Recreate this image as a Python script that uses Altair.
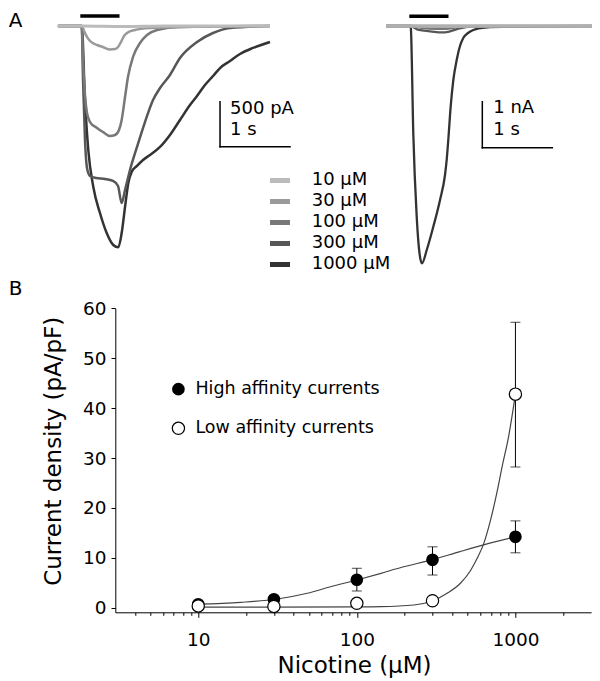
import altair as alt
import pandas as pd

FONT = "DejaVu Sans"

# ---------------- Panel A: current traces (time in s after nicotine onset) ----------------
CONC_LABELS = ["10 µM", "30 µM", "100 µM", "300 µM", "1000 µM"]
CONC_GRAYS = ["#bbbbbb", "#9a9a9a", "#787878", "#575757", "#333333"]

# left cell, current in pA
L10_T = [-0.34, 0.0, 0.6, 1.2, 2.69]
L10_I = [0, 0, -5, 0, 0]
L30_T = [-0.34, 0.0, 0.047, 0.076, 0.119, 0.219, 0.304, 0.404, 0.476, 0.519,
         0.561, 0.604, 0.647, 0.761, 0.976, 1.404, 2.69]
L30_I = [0, 0, -78, -122, -167, -211, -233, -261, -256, -233,
         -178, -111, -78, -44, -22, -11, 0]
L100_T = [-0.34, 0.0, 0.019, 0.047, 0.076, 0.119, 0.219, 0.304, 0.404, 0.476,
          0.533, 0.571, 0.619, 0.661, 0.733, 0.833, 0.933, 1.076, 1.404, 2.69]
L100_I = [0, 0, -378, -767, -967, -1067, -1133, -1178, -1222, -1211,
          -1155, -1044, -789, -567, -344, -189, -100, -44, -11, 0]
L300_T = [-0.34, 0.0, 0.019, 0.047, 0.076, 0.119, 0.204, 0.333, 0.447, 0.519,
          0.571, 0.619, 0.69, 0.79, 0.904, 1.019, 1.119, 1.261, 1.404, 1.647,
          1.876, 2.119, 2.69]
L300_I = [0, 0, -600, -1267, -1578, -1667, -1689, -1700, -1722, -1778,
          -1967, -1822, -1600, -1344, -1067, -822, -689, -544, -356, -178,
          -78, -22, 0]
L1000_T = [-0.34, 0.0, 0.047, 0.094, 0.166, 0.261, 0.357, 0.451, 0.523, 0.571,
           0.619, 0.666, 0.714, 0.79, 0.876, 0.976, 1.119, 1.261, 1.404, 1.547,
           1.647, 1.761, 1.876, 1.976, 2.119, 2.261, 2.447, 2.69]
L1000_I = [0, 0, -822, -1378, -1789, -2078, -2300, -2433, -2459, -2300,
           -2011, -1744, -1622, -1555, -1489, -1433, -1344, -1211, -1044, -878,
           -778, -656, -556, -467, -389, -311, -244, -178]

# right cell, current in nA
R10_T = [-0.353, 0.5, 1.5, 2.657]
R10_I = [0, 0, 0, 0]
R30_T = [-0.353, 0.0, 0.3, 0.6, 1.0, 2.657]
R30_I = [0, 0, -0.02, -0.02, 0, 0]
R100_T = [-0.353, 0.0, 0.15, 0.35, 0.5, 0.65, 0.9, 2.657]
R100_I = [0, 0, -0.04, -0.06, -0.06, -0.03, -0.01, 0]
R300_T = [-0.353, 0.0, 0.1, 0.3, 0.45, 0.55, 0.7, 0.9, 2.657]
R300_I = [0, 0, -0.08, -0.12, -0.14, -0.12, -0.05, -0.01, 0]
R1000_T = [-0.353, 0.0, 0.004, 0.037, 0.086, 0.133, 0.161, 0.229, 0.323, 0.419,
           0.49, 0.514, 0.537, 0.571, 0.609, 0.657, 0.704, 0.751, 0.819, 0.894,
           1.061, 1.561, 2.657]
R1000_I = [0, 0, -0.087, -2.33, -4.15, -5.02, -5.16, -4.87, -4.363, -3.783,
           -3.239, -2.913, -2.478, -1.754, -1.174, -0.739, -0.435, -0.261, -0.152, -0.087,
           -0.033, -0.011, 0]

# nicotine application bar (s) and scale bars
APP_T = [-0.02, 0.54]
L_BAR_T = 1.976
L_BAR_I = -841       # top of 500 pA bar
R_BAR_T = 1.023
R_BAR_I = -1.646     # top of 1 nA bar

# ---------------- Panel B: dose-response ----------------
NIC = [10, 30, 100, 300, 1000]
HIGH_MEAN = [0.7, 1.7, 5.6, 9.6, 14.2]
HIGH_LO = [0.55, 1.5, 3.35, 6.55, 11.0]
HIGH_HI = [0.85, 1.9, 7.9, 12.2, 17.4]
LOW_MEAN = [0.35, 0.25, 0.88, 1.4, 42.8]
LOW_LO = [0.25, 0.15, 0.7, 1.2, 28.2]
LOW_HI = [0.45, 0.35, 1.05, 1.6, 57.2]

HIGH_FIT_X = [10, 18.5, 31.5, 48.7, 68.3, 100, 142, 192, 298, 442, 631, 1000]
HIGH_FIT_Y = [0.7, 1.08, 1.74, 2.89, 4.2, 5.55, 6.89, 8.1, 9.6, 11.2, 12.6, 14.2]
LOW_FIT_X = [10, 30, 100, 141, 229, 298, 371, 450, 520, 574, 632, 696, 767, 825, 908, 1000]
LOW_FIT_Y = [0.1, 0.1, 0.15, 0.2, 0.54, 1.34, 2.9, 4.9, 7.4, 9.9, 12.9, 17.5, 23.3, 28.3, 34.5, 42.8]

LEGEND_B = ["High affinity currents", "Low affinity currents"]

# ---------------- layout ----------------
W, H = 475.8, 604.3
PAD = {"left": 107.3, "top": 0, "right": 0.9, "bottom": 68}

sc_lx = alt.Scale(domain=[-0.5, 3.0], range=[-68.6, 176.4], nice=False, zero=False)
sc_ly = alt.Scale(domain=[-2600, 200], range=[252, 0], nice=False, zero=False)
sc_rx = alt.Scale(domain=[-0.5, 2.8], range=[260.4, 491.4], nice=False, zero=False)
sc_ry = alt.Scale(domain=[-5.4, 0.4], range=[266.4, -0.4], nice=False, zero=False)
sc_bx = alt.Scale(type="log", domain=[3, 3000], range=[0, W], nice=False)
sc_by = alt.Scale(domain=[-0.92, 60], range=[H, 300.3], nice=False, zero=False)
sc_leg = alt.Scale(domain=[0, 4], range=[172.5, 256.5], nice=False, zero=False)


def trace(T, I, color, width, sx, sy):
    df = pd.DataFrame({"t": T, "i": I})
    return alt.Chart(df).mark_line(color=color, strokeWidth=width, interpolate="monotone").encode(
        x=alt.X("t:Q", scale=sx, axis=None), y=alt.Y("i:Q", scale=sy, axis=None))


def trace_panel(traces, sx, sy, app_i, bar_t, bar_i, bar_h, bar_labels):
    layers = [trace(T, I, c, w, sx, sy) for (T, I, c, w) in traces]
    app = alt.Chart(pd.DataFrame({"t0": [APP_T[0]], "t1": [APP_T[1]], "i": [app_i]})).mark_rule(
        color="black", strokeWidth=3.5).encode(
        x=alt.X("t0:Q", scale=sx, axis=None), x2="t1:Q", y=alt.Y("i:Q", scale=sy, axis=None))
    vbar = alt.Chart(pd.DataFrame({"t": [bar_t], "i0": [bar_i], "i1": [bar_i - bar_h]})).mark_rule(
        color="black", strokeWidth=1.5, strokeCap="square").encode(
        x=alt.X("t:Q", scale=sx, axis=None), y=alt.Y("i0:Q", scale=sy, axis=None), y2="i1:Q")
    hbar = alt.Chart(pd.DataFrame({"t0": [bar_t], "t1": [bar_t + 1.0], "i": [bar_i - bar_h]})).mark_rule(
        color="black", strokeWidth=1.5, strokeCap="square").encode(
        x=alt.X("t0:Q", scale=sx, axis=None), x2="t1:Q", y=alt.Y("i:Q", scale=sy, axis=None))
    txt = alt.Chart(pd.DataFrame(bar_labels)).mark_text(
        align="left", baseline="middle", font=FONT, fontSize=18, color="black").encode(
        x=alt.X("t:Q", scale=sx, axis=None), y=alt.Y("i:Q", scale=sy, axis=None), text="label:N")
    return alt.layer(*layers, app, vbar, hbar, txt)


left = trace_panel(
    [(L1000_T, L1000_I, CONC_GRAYS[4], 2.5), (L300_T, L300_I, CONC_GRAYS[3], 2.5),
     (L100_T, L100_I, CONC_GRAYS[2], 2.5), (L30_T, L30_I, CONC_GRAYS[1], 2.5),
     (L10_T, L10_I, CONC_GRAYS[0], 3.0)],
    sc_lx, sc_ly, 111, L_BAR_T, L_BAR_I, 500,
    {"t": [2.12, 2.12], "i": [-917, -1155], "label": ["500 pA", "1 s"]})

right = trace_panel(
    [(R1000_T, R1000_I, CONC_GRAYS[4], 2.3), (R300_T, R300_I, CONC_GRAYS[3], 2.3),
     (R100_T, R100_I, CONC_GRAYS[2], 2.3), (R30_T, R30_I, CONC_GRAYS[1], 2.3),
     (R10_T, R10_I, "#b0b0b0", 3.5)],
    sc_rx, sc_ry, 0.211, R_BAR_T, R_BAR_I, 1.0,
    {"t": [1.18, 1.18], "i": [-1.772, -2.26], "label": ["1 nA", "1 s"]})

leg_df = pd.DataFrame({"idx": list(range(5)), "label": CONC_LABELS})
leg_sw = alt.Chart(leg_df).mark_rule(strokeWidth=5, strokeCap="butt").encode(
    x=alt.value(154.7), x2=alt.value(174.7),
    y=alt.Y("idx:Q", scale=sc_leg, axis=None),
    color=alt.Color("label:N", scale=alt.Scale(domain=CONC_LABELS, range=CONC_GRAYS), legend=None))
leg_tx = alt.Chart(leg_df).mark_text(align="left", baseline="middle", font=FONT, fontSize=18,
                                     color="black").encode(
    x=alt.value(196.4), y=alt.Y("idx:Q", scale=sc_leg, axis=None), text="label:N")
legendA = alt.layer(leg_sw, leg_tx)

# ---- panel B ----
ax_x = alt.Axis(values=[10, 100, 1000], format="d", tickSize=5, tickWidth=1, domainWidth=1,
                labelFontSize=18.5, labelPadding=13, labelFlush=False, labelOverlap=False,
                title="Nicotine (µM)", titleFontSize=23, titleX=238.7, titleY=60,
                titleBaseline="alphabetic", titleAlign="center", orient="bottom", grid=False)
ax_y = alt.Axis(values=[0, 10, 20, 30, 40, 50, 60], tickSize=4.3, tickWidth=1, domainWidth=1,
                labelFontSize=18.5, labelPadding=5, labelFlush=False, labelOverlap=False,
                title="Current density (pA/pF)", titleFontSize=23, titleX=-61.7, titleY=442.8,
                titleAngle=270, titleBaseline="middle", titleAlign="center",
                orient="left", grid=False)


def bx():
    return alt.X("x:Q", scale=sc_bx, axis=ax_x)


def by():
    return alt.Y("y:Q", scale=sc_by, axis=ax_y)


fit_hi = alt.Chart(pd.DataFrame({"x": HIGH_FIT_X, "y": HIGH_FIT_Y})).mark_line(
    color="#444444", strokeWidth=1.2, interpolate="monotone").encode(x=bx(), y=by())
fit_lo = alt.Chart(pd.DataFrame({"x": LOW_FIT_X, "y": LOW_FIT_Y})).mark_line(
    color="#444444", strokeWidth=1.2, interpolate="monotone").encode(x=bx(), y=by())
err = alt.Chart(pd.DataFrame({"x": NIC * 2, "y": HIGH_LO + LOW_LO, "y2": HIGH_HI + LOW_HI})).mark_rule(
    color="black", strokeWidth=1).encode(x=bx(), y=by(), y2="y2:Q")
caps = alt.Chart(pd.DataFrame({"x": NIC * 4, "y": HIGH_LO + HIGH_HI + LOW_LO + LOW_HI})).mark_tick(
    orient="horizontal", size=10, thickness=1, color="black").encode(x=bx(), y=by())
pts_hi = alt.Chart(pd.DataFrame({"x": NIC + [7.5], "y": HIGH_MEAN + [43.8]})).mark_point(
    shape="circle", filled=True, size=160, color="black", opacity=1).encode(x=bx(), y=by())
pts_lo = alt.Chart(pd.DataFrame({"x": NIC + [7.5], "y": LOW_MEAN + [35.95]})).mark_point(
    shape="circle", filled=True, fill="white", stroke="black", strokeWidth=1.2, size=150,
    opacity=1).encode(x=bx(), y=by())
leg_b = alt.Chart(pd.DataFrame({"x": [9.6, 9.6], "y": [43.8, 35.95], "label": LEGEND_B})).mark_text(
    align="left", baseline="middle", font=FONT, fontSize=17.5, color="black").encode(
    x=bx(), y=by(), text="label:N")
panelB = alt.layer(fit_hi, fit_lo, err, caps, pts_hi, pts_lo, leg_b)

MINOR = [4, 5, 6, 7, 8, 9, 20, 30, 40, 50, 60, 70, 80, 90,
         200, 300, 400, 500, 600, 700, 800, 900, 2000]
minor = alt.Chart(pd.DataFrame({"x": [10], "y": [0]})).mark_point(opacity=0).encode(
    x=alt.X("x:Q", scale=sc_bx, axis=alt.Axis(values=MINOR, labels=False, domain=False, tickSize=3,
                                              tickWidth=1, title=None, orient="bottom", grid=False)),
    y=alt.Y("y:Q", scale=sc_by, axis=None))

lab_a = alt.Chart(pd.DataFrame({"k": [0]})).mark_text(
    text="A", font=FONT, fontSize=20, align="left", baseline="alphabetic", color="black").encode(
    x=alt.value(-106.5), y=alt.value(19))
lab_b = alt.Chart(pd.DataFrame({"k": [0]})).mark_text(
    text="B", font=FONT, fontSize=20, align="left", baseline="alphabetic", color="black").encode(
    x=alt.value(-106.5), y=alt.value(287))

chart = alt.layer(left, right, legendA, panelB, minor, lab_a, lab_b).resolve_scale(
    x="independent", y="independent", color="independent"
).properties(
    width=W, height=H, padding=PAD, autosize=alt.AutoSizeParams(type="none"), background="white"
).configure_view(stroke=None).configure_axis(
    labelFont=FONT, titleFont=FONT, labelColor="black", titleColor="black",
    domainColor="black", tickColor="black", titleFontWeight="normal"
)

chart.save("out.html", embed_options={"renderer": "svg", "actions": False})
